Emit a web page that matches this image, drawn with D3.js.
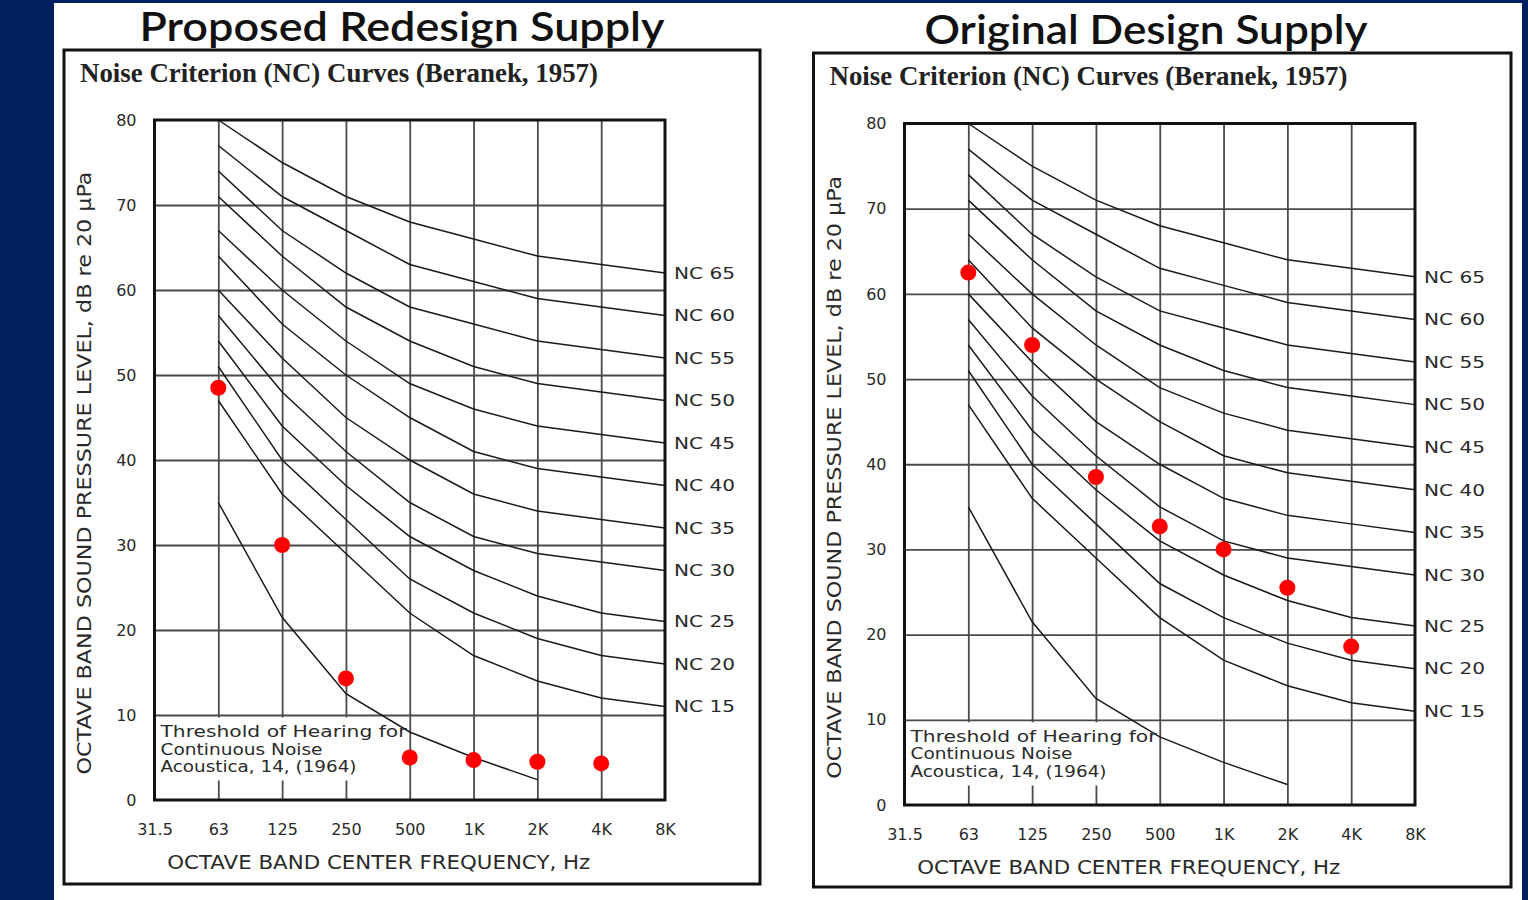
<!DOCTYPE html>
<html>
<head>
<meta charset="utf-8">
<script src="https://cdn.jsdelivr.net/npm/d3@7"></script>
<style>
  html, body { margin: 0; padding: 0; background: #002060; overflow: hidden; }
  svg { display: block; }
  .cad { font-family: "DejaVu Sans", sans-serif; fill: #2a2a2a; }
</style>
</head>
<body>
<svg id="chart" width="1528" height="900"></svg>
<script>
// Octave band centre frequencies (Hz) shown on the x axis
const bands = ["31.5", "63", "125", "250", "500", "1K", "2K", "4K", "8K"];
// Bands on which the NC curves are defined
const ncBands = ["63", "125", "250", "500", "1K", "2K", "4K", "8K"];
// Sound pressure level ticks, dB
const levelTicks = [0, 10, 20, 30, 40, 50, 60, 70, 80];

// Beranek (1957) Noise Criterion curves, dB per octave band
const nc15 = [47, 36, 29, 22, 17, 14, 12, 11];
const nc20 = [51, 40, 33, 26, 22, 19, 17, 16];
const nc25 = [54, 44, 37, 31, 27, 24, 22, 21];
const nc30 = [57, 48, 41, 35, 31, 29, 28, 27];
const nc35 = [60, 52, 45, 40, 36, 34, 33, 32];
const nc40 = [64, 56, 50, 45, 41, 39, 38, 37];
const nc45 = [67, 60, 54, 49, 46, 44, 43, 42];
const nc50 = [71, 64, 58, 54, 51, 49, 48, 47];
const nc55 = [74, 67, 62, 58, 56, 54, 53, 52];
const nc60 = [77, 71, 67, 63, 61, 59, 58, 57];
const nc65 = [80, 75, 71, 68, 66, 64, 63, 62];
const ncNames = ["NC 15", "NC 20", "NC 25", "NC 30", "NC 35", "NC 40", "NC 45", "NC 50", "NC 55", "NC 60", "NC 65"];

// Threshold of hearing for continuous noise (Acoustica 14, 1964)
const thresholdBands = ["63", "125", "250", "500", "1K", "2K"];
const thresholdLevels = [35, 21.5, 12.5, 8, 5, 2.4];

// Measured supply noise, dB per octave band
const measuredBands = ["63", "125", "250", "500", "1K", "2K", "4K"];
const proposedSupply = [48.5, 30, 14.3, 5, 4.7, 4.5, 4.3];
const originalSupply = [62.5, 54, 38.5, 32.7, 30, 25.5, 18.6];

const ncSeries = [nc15, nc20, nc25, nc30, nc35, nc40, nc45, nc50, nc55, nc60, nc65]
  .map((levels, i) => ({ name: ncNames[i], points: ncBands.map((b, j) => ({ band: b, level: levels[j] })) }));
const thresholdPoints = thresholdBands.map((b, i) => ({ band: b, level: thresholdLevels[i] }));

const svg = d3.select("#chart");

// slide background
svg.append("rect").attr("x", 0).attr("y", 0).attr("width", 1528).attr("height", 900).attr("fill", "#002060");
svg.append("rect").attr("x", 54).attr("y", 3).attr("width", 1468).attr("height", 897).attr("fill", "#ffffff");

const panels = [
  { title: "Proposed Redesign Supply", titleX: 402, titleY: 40.5, titleW: 525,
    frame: { x: 64, y: 50, w: 696, h: 834 },
    plot: { x0: 154.5, x1: 665, y0: 120, y1: 800 },
    values: proposedSupply },
  { title: "Original Design Supply", titleX: 1146, titleY: 43.5, titleW: 443,
    frame: { x: 813.5, y: 53, w: 697.5, h: 834 },
    plot: { x0: 904.5, x1: 1415, y0: 123.5, y1: 805 },
    values: originalSupply }
];

panels.forEach(drawPanel);

function drawPanel(p) {
  const g = svg.append("g");
  const { x0, x1, y0, y1 } = p.plot;
  const x = d3.scalePoint().domain(bands).range([x0, x1]);
  const y = d3.scaleLinear().domain([0, 80]).range([y1, y0]);

  // slide title
  g.append("text")
    .attr("x", p.titleX).attr("y", p.titleY)
    .attr("text-anchor", "middle")
    .attr("textLength", p.titleW).attr("lengthAdjust", "spacingAndGlyphs")
    .style("font-family", "Lato, sans-serif").style("font-size", "41px")
    .style("font-weight", 600).style("fill", "#111")
    .text(p.title);

  // chart frame
  g.append("rect")
    .attr("x", p.frame.x).attr("y", p.frame.y).attr("width", p.frame.w).attr("height", p.frame.h)
    .attr("fill", "#fff").attr("stroke", "#111").attr("stroke-width", 3);

  g.append("text")
    .attr("x", p.frame.x + 16).attr("y", p.frame.y + 32)
    .attr("textLength", 518).attr("lengthAdjust", "spacingAndGlyphs")
    .style("font-family", "'Liberation Serif', serif").style("font-size", "27px")
    .style("font-weight", "bold").style("fill", "#222")
    .text("Noise Criterion (NC) Curves (Beranek, 1957)");

  // grid
  const vGrid = g.append("g").attr("transform", `translate(0,${y1})`)
    .call(d3.axisBottom(x).tickValues(bands.slice(1, -1)).tickSize(-(y1 - y0)).tickFormat(""));
  const hGrid = g.append("g").attr("transform", `translate(${x0},0)`)
    .call(d3.axisLeft(y).tickValues(levelTicks.slice(1, -1)).tickSize(-(x1 - x0)).tickFormat(""));
  [vGrid, hGrid].forEach(a => {
    a.select(".domain").remove();
    a.selectAll("line").attr("stroke", "#4a4a4a").attr("stroke-width", 1.8);
  });

  // label box for the hearing threshold note
  g.append("rect")
    .attr("x", x0 + 1.5).attr("y", y(10) + 2.5)
    .attr("width", x("500") - x0 - 8).attr("height", y(0) - y(10) - 22)
    .attr("fill", "#fff");
  const note = g.append("text").attr("class", "cad").style("font-size", "16px");
  [["Threshold of Hearing for", 246, 22], ["Continuous Noise", 162, 39.5], ["Acoustica, 14, (1964)", 196, 57]]
    .forEach(([t, w, dy]) => {
      note.append("tspan").attr("x", x0 + 6).attr("y", y(10) + dy)
        .attr("textLength", w).attr("lengthAdjust", "spacingAndGlyphs").text(t);
    });

  const line = d3.line().x(d => x(d.band)).y(d => y(d.level));

  // NC curves
  g.append("g").selectAll("path").data(ncSeries).join("path")
    .attr("d", d => line(d.points))
    .attr("fill", "none").attr("stroke", "#1a1a1a").attr("stroke-width", 1.5);

  // hearing threshold curve
  g.append("path").attr("d", line(thresholdPoints))
    .attr("fill", "none").attr("stroke", "#1a1a1a").attr("stroke-width", 1.5);

  // plot frame
  g.append("rect").attr("x", x0).attr("y", y0).attr("width", x1 - x0).attr("height", y1 - y0)
    .attr("fill", "none").attr("stroke", "#111").attr("stroke-width", 3);

  // NC curve names
  g.append("g").selectAll("text").data(ncSeries).join("text")
    .attr("class", "cad")
    .attr("x", x1 + 9).attr("y", d => y(d.points[d.points.length - 1].level))
    .attr("dy", "0.36em")
    .attr("textLength", 61).attr("lengthAdjust", "spacingAndGlyphs")
    .style("font-size", "16px")
    .text(d => d.name);

  // tick labels
  const yAxis = g.append("g").attr("transform", `translate(${x0},0)`)
    .call(d3.axisLeft(y).tickValues(levelTicks).tickSize(0).tickPadding(18));
  const xAxis = g.append("g").attr("transform", `translate(0,${y1})`)
    .call(d3.axisBottom(x).tickSize(0).tickPadding(24));
  [yAxis, xAxis].forEach(a => {
    a.select(".domain").remove();
    a.selectAll("text").attr("class", "cad").attr("fill", null)
      .style("font-size", "16px").style("font-family", "'DejaVu Sans', sans-serif");
  });

  // axis titles
  g.append("text").attr("class", "cad")
    .attr("transform", `translate(${x0 - 70},${(y0 + y1) / 2 + 13}) rotate(-90)`)
    .attr("text-anchor", "middle").attr("dy", "0.36em")
    .attr("textLength", 603).attr("lengthAdjust", "spacingAndGlyphs")
    .style("font-size", "19px")
    .text("OCTAVE BAND SOUND PRESSURE LEVEL, dB re 20 μPa");
  g.append("text").attr("class", "cad")
    .attr("x", (x0 + x1) / 2 - 31).attr("y", y1 + 62)
    .attr("text-anchor", "middle").attr("dy", "0.36em")
    .attr("textLength", 423).attr("lengthAdjust", "spacingAndGlyphs")
    .style("font-size", "19px")
    .text("OCTAVE BAND CENTER FREQUENCY, Hz");

  // measured levels
  g.append("g").selectAll("circle").data(p.values).join("circle")
    .attr("cx", (d, i) => x(measuredBands[i]))
    .attr("cy", d => y(d))
    .attr("r", 8)
    .attr("fill", "#ff0000");
}
</script>
</body>
</html>
